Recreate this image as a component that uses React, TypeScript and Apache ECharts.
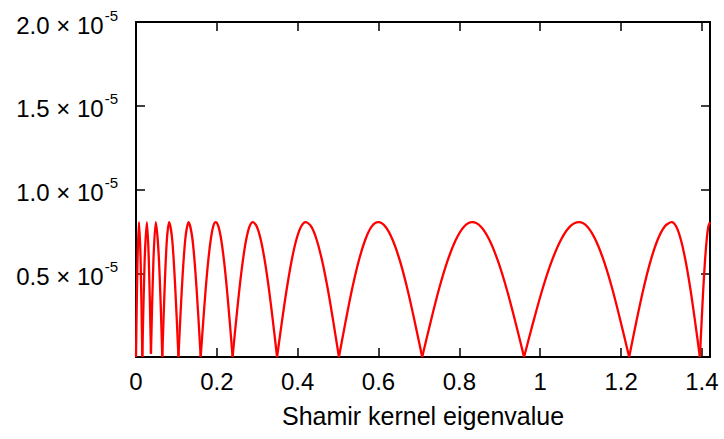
import React, { useEffect, useRef } from 'react';
import * as echarts from 'echarts';

// y values in units of 1e-5
const arcA = [[0, 0], [0.0037, 0.569], [0.0074, 0.805], [0.0115, 0.569], [0.0156, 0]];
const arcB = [[0.0156, 0], [0.0213, 0.569], [0.027, 0.805], [0.0318, 0.569], [0.037, 0.02]];
const arcC = [[0.037, 0.02], [0.043, 0.569], [0.049, 0.805], [0.057, 0.569], [0.065, 0]];
const arcD = [[0.065, 0], [0.0707, 0.403], [0.0763, 0.697], [0.082, 0.805], [0.0897, 0.697], [0.0973, 0.403], [0.105, 0]];
const arcE = [[0.105, 0], [0.1133, 0.403], [0.1217, 0.697], [0.13, 0.805], [0.14, 0.697], [0.15, 0.403], [0.16, 0]];
const arcF = [[0.16, 0], [0.1662, 0.208], [0.1723, 0.403], [0.1785, 0.569], [0.1847, 0.697], [0.1908, 0.778], [0.197, 0.805],
  [0.204, 0.778], [0.211, 0.697], [0.218, 0.569], [0.225, 0.403], [0.232, 0.208], [0.239, 0]];
const arcG = [[0.239, 0], [0.2473, 0.208], [0.2557, 0.403], [0.264, 0.569], [0.2723, 0.697], [0.2807, 0.778], [0.289, 0.805],
  [0.299, 0.778], [0.309, 0.697], [0.319, 0.569], [0.329, 0.403], [0.339, 0.208], [0.349, 0]];
const arcH = [[0.349, 0], [0.3608, 0.208], [0.3727, 0.403], [0.3845, 0.569], [0.3963, 0.697], [0.4082, 0.778], [0.42, 0.805],
  [0.4337, 0.778], [0.4473, 0.697], [0.461, 0.569], [0.4747, 0.403], [0.4883, 0.208], [0.502, 0]];
const arcI = [[0.502, 0], [0.5182, 0.208], [0.5343, 0.403], [0.5505, 0.569], [0.5667, 0.697], [0.5828, 0.778], [0.599, 0.805],
  [0.6172, 0.778], [0.6353, 0.697], [0.6535, 0.569], [0.6717, 0.403], [0.6898, 0.208], [0.708, 0]];
const arcJ = [[0.708, 0], [0.7287, 0.208], [0.7493, 0.403], [0.77, 0.569], [0.7907, 0.697], [0.8113, 0.778], [0.832, 0.805],
  [0.8533, 0.778], [0.8747, 0.697], [0.896, 0.569], [0.9173, 0.403], [0.9387, 0.208], [0.96, 0]];
const arcK = [[0.96, 0], [0.9827, 0.208], [1.0053, 0.403], [1.028, 0.569], [1.0507, 0.697], [1.0733, 0.778], [1.096, 0.805],
  [1.1167, 0.778], [1.1373, 0.697], [1.158, 0.569], [1.1787, 0.403], [1.1993, 0.208], [1.22, 0]];
const arcL = [[1.22, 0], [1.2375, 0.208], [1.255, 0.403], [1.2725, 0.569], [1.29, 0.697], [1.3075, 0.778], [1.325, 0.805],
  [1.3367, 0.778], [1.3483, 0.697], [1.36, 0.569], [1.3717, 0.403], [1.3833, 0.208], [1.395, 0]];
const arcM = [[1.395, 0], [1.3992, 0.208], [1.4033, 0.403], [1.4075, 0.569], [1.4117, 0.697], [1.4158, 0.778], [1.42, 0.805]];

const arcs = [arcA, arcB, arcC, arcD, arcE, arcF, arcG, arcH, arcI, arcJ, arcK, arcL, arcM];

const xMin = 0;
const xMax = 1.42;
const xInterval = 0.2;
const yMin = 0;
const yMax = 2.0;
const yInterval = 0.5;
const xTitle = 'Shamir kernel eigenvalue';

const FONT = '"Liberation Sans", Arial, Helvetica, sans-serif';

export default function App() {
  const ref = useRef<HTMLDivElement>(null);
  useEffect(() => {
    if (!ref.current) return;
    const chart = echarts.init(ref.current, null, { renderer: 'svg' });
    const axisLine = { show: true, onZero: false, lineStyle: { color: '#000', width: 2 } };
    const axisTick = { show: true, inside: true, length: 9, lineStyle: { color: '#000', width: 1.5 } };
    const xFmt = (v: number) => {
      const k = v / xInterval;
      if (Math.abs(k - Math.round(k)) > 1e-6) return '';
      return String(Math.round(v * 10) / 10);
    };
    const yFmt = (v: number) => {
      if (v === 0) return '';
      return `{m|${v.toFixed(1)} × 10}{s|-5}`;
    };
    chart.setOption({
      animation: false,
      backgroundColor: '#fff',
      grid: { left: 136, right: 14, top: 22, bottom: 82, containLabel: false },
      xAxis: [
        {
          type: 'value',
          min: xMin,
          max: xMax,
          interval: xInterval,
          position: 'bottom',
          axisLine,
          axisTick,
          splitLine: { show: false },
          axisLabel: {
            show: true,
            formatter: xFmt,
            showMaxLabel: false,
            color: '#000',
            fontFamily: FONT,
            fontSize: 24,
            margin: 12,
          },
          name: xTitle,
          nameLocation: 'middle',
          nameGap: 46,
          nameTextStyle: { color: '#000', fontFamily: FONT, fontSize: 25 },
        },
        {
          type: 'value',
          min: xMin,
          max: xMax,
          interval: xInterval,
          position: 'top',
          axisLine,
          axisTick,
          splitLine: { show: false },
          axisLabel: { show: false },
        },
      ],
      yAxis: [
        {
          type: 'value',
          min: yMin,
          max: yMax,
          interval: yInterval,
          position: 'left',
          axisLine,
          axisTick,
          splitLine: { show: false },
          axisLabel: {
            show: true,
            formatter: yFmt,
            margin: 18,
            color: '#000',
            fontFamily: FONT,
            rich: {
              m: { fontSize: 24, fontFamily: FONT, color: '#000', height: 28, lineHeight: 34, verticalAlign: 'bottom' },
              s: {
                fontSize: 15,
                fontFamily: FONT,
                color: '#000',
                height: 14,
                lineHeight: 34,
                padding: [3, 0, 17, 1],
                verticalAlign: 'top',
              },
            },
          },
        },
        {
          type: 'value',
          min: yMin,
          max: yMax,
          interval: yInterval,
          position: 'right',
          axisLine,
          axisTick,
          splitLine: { show: false },
          axisLabel: { show: false },
        },
      ],
      series: arcs.map((d) => ({
        type: 'line',
        xAxisIndex: 0,
        yAxisIndex: 0,
        data: d,
        smooth: 0.3,
        symbol: 'none',
        lineStyle: { color: '#ff0000', width: 2.3 },
        silent: true,
      })),
    });
    return () => chart.dispose();
  }, []);
  return (
    <div
      ref={ref}
      style={{ position: 'absolute', left: 0, top: 0, width: 724, height: 439 }}
    />
  );
}
